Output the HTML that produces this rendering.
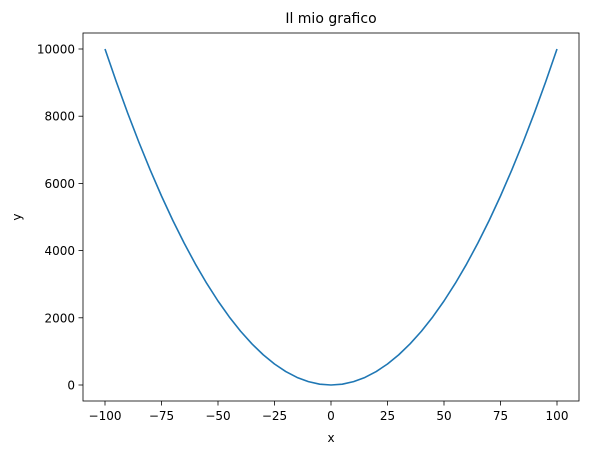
<!DOCTYPE html>
<html><head><meta charset="utf-8"><style>
html,body{margin:0;padding:0;background:#fff;}
svg text{font-family:"DejaVu Sans","Liberation Sans",sans-serif;fill:#000;}
</style></head><body>
<svg id="chart" width="589" height="455" xmlns="http://www.w3.org/2000/svg">
<rect x="0" y="0" width="589" height="455" fill="#fff"/>
<g id="plot"></g>
</svg>
<script>
const xValues=[-100,-95,-90,-85,-80,-75,-70,-65,-60,-55,-50,-45,-40,-35,-30,-25,-20,-15,-10,-5,0,5,10,15,20,25,30,35,40,45,50,55,60,65,70,75,80,85,90,95,100];
const yValues=[10000,9025,8100,7225,6400,5625,4900,4225,3600,3025,2500,2025,1600,1225,900,625,400,225,100,25,0,25,100,225,400,625,900,1225,1600,2025,2500,3025,3600,4225,4900,5625,6400,7225,8100,9025,10000];
const xTicks=[-100,-75,-50,-25,0,25,50,75,100];
const yTicks=[0,2000,4000,6000,8000,10000];
const titleText="Il mio grafico";

const L=83,R=579,T=33,B=401;
const X0=105,X1=557,Y0=385,Y1=49;
function sx(v){return X0+(v-(-100))/200*(X1-X0);}
function sy(v){return Y0+(v-0)/10000*(Y1-Y0);}
const NS="http://www.w3.org/2000/svg";
const g=document.getElementById('plot');
function mk(tag,attrs,parent){const e=document.createElementNS(NS,tag);for(const k in attrs)e.setAttribute(k,attrs[k]);(parent||g).appendChild(e);return e;}
function fmt(v){return v<0?'\u2212'+(-v):String(v);}

xTicks.forEach(t=>{
  const x=sx(t);
  const tk=mk('line',{x1:x,x2:x,y1:B,y2:B+4.5,stroke:'#000','stroke-width':0.8});
  
  
  const tx=mk('text',{x:x,y:B+19,'text-anchor':'middle','font-size':12});
  tx.textContent=fmt(t);
  
  
});
yTicks.forEach(t=>{
  const y=sy(t);
  const tk=mk('line',{x1:L-4.5,x2:L,y1:y,y2:y,stroke:'#000','stroke-width':0.8});
  
  
  const tx=mk('text',{x:L-8,y:y+4.5,'text-anchor':'end','font-size':12});
  tx.textContent=fmt(t);
  
  
});

let d='';
xValues.forEach((v,i)=>{d+=(i?'L':'M')+sx(v).toFixed(2)+','+sy(yValues[i]).toFixed(2);});
const line=mk('path',{d:d,fill:'none',stroke:'#1f77b4','stroke-width':1.6,'stroke-linejoin':'round'});



const frame=mk('rect',{x:L,y:T,width:R-L,height:B-T,fill:'none',stroke:'#000','stroke-width':0.8});



const title=mk('text',{x:(L+R)/2,y:23,'text-anchor':'middle','font-size':14});
title.textContent=titleText;



const xl=mk('text',{x:(L+R)/2,y:442,'text-anchor':'middle','font-size':12});
xl.textContent='x';



const yl=mk('text',{x:21,y:(T+B)/2,'text-anchor':'middle','font-size':12,transform:'rotate(-90 21 '+((T+B)/2)+')'});
yl.textContent='y';


</script>
</body></html>
